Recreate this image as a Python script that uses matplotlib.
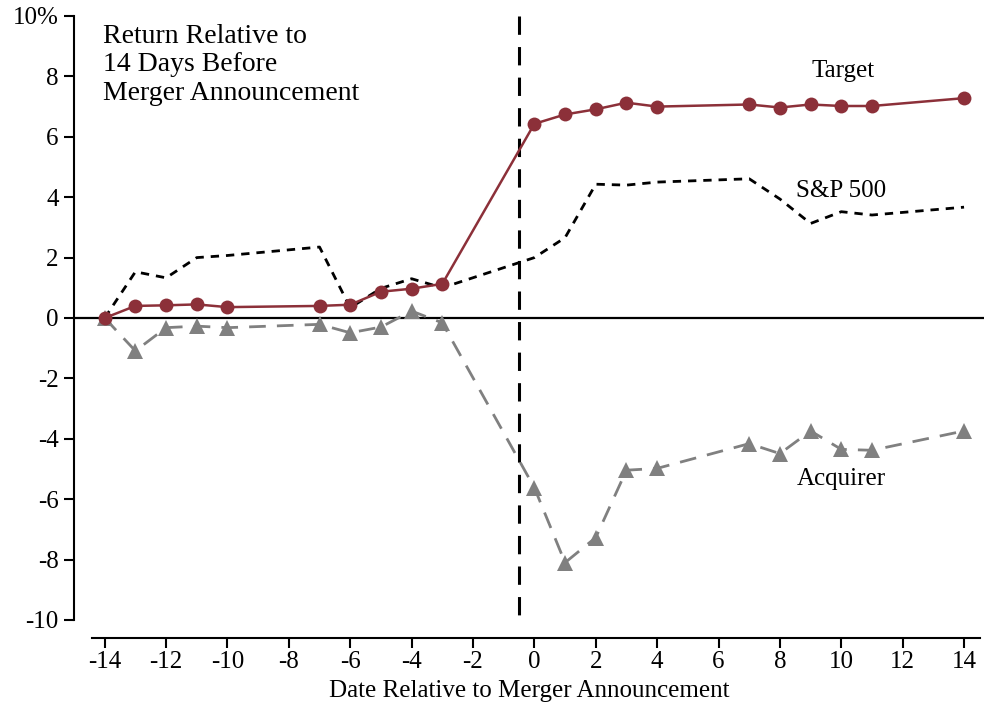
import matplotlib.pyplot as plt
import numpy as np

plt.rcParams['font.family'] = ['Liberation Serif', 'DejaVu Serif']

# Days relative to announcement
days = [-14, -13, -12, -11, -10, -7, -6, -5, -4, -3, 0, 1, 2, 3, 4, 7, 8, 9, 10, 11, 14]

target = [0.0, 0.40, 0.42, 0.45, 0.36, 0.40, 0.44, 0.87, 0.97, 1.13,
          6.43, 6.74, 6.91, 7.13, 7.00, 7.07, 6.97, 7.07, 7.02, 7.02, 7.28]

acquirer = [0.0, -1.09, -0.32, -0.27, -0.32, -0.21, -0.49, -0.30, 0.23, -0.16,
            -5.62, -8.10, -7.27, -5.04, -4.98, -4.16, -4.49, -3.74, -4.35, -4.38, -3.74]

sp500 = [0.0, 1.53, 1.33, 2.00, 2.07, 2.35, 0.34, 0.98, 1.30, 1.00,
         2.00, 2.66, 4.43, 4.40, 4.50, 4.61, 3.94, 3.13, 3.52, 3.41, 3.67]

yticks = [-10, -8, -6, -4, -2, 0, 2, 4, 6, 8, 10]
yticklabels = ['-10', '-8', '-6', '-4', '-2', '0', '2', '4', '6', '8', '10%']
xticks = list(range(-14, 15, 2))

red = '#8c3039'
gray = '#808080'

fig = plt.figure(figsize=(9.84, 7.09), dpi=100)
ax = fig.add_axes([74 / 984, 1 - 620 / 709, 1 - 74 / 984, (620 - 16) / 709])

ax.axhline(0, color='black', lw=1.6, zorder=1)
ax.plot([-0.5, -0.5], [10, -10], color='black', lw=2.2, dashes=(6, 4), zorder=1)

ax.plot(days, sp500, color='black', lw=2, dashes=(3, 2.5), zorder=2)
ax.plot(days, acquirer, color=gray, lw=2, dashes=(6, 4), marker='^',
        markersize=11, markeredgewidth=0, zorder=3)
ax.plot(days, target, color=red, lw=1.8, marker='o', markersize=10,
        markeredgewidth=0, zorder=4)

ax.text(10.05, 8.18, 'Target', fontsize=18, ha='center', va='center')
ax.text(10.0, 4.2, 'S&P 500', fontsize=18, ha='center', va='center')
ax.text(10.0, -5.33, 'Acquirer', fontsize=18, ha='center', va='center')
ax.text(-14.05, 9.75, 'Return Relative to\n14 Days Before\nMerger Announcement',
        fontsize=20, ha='left', va='top', linespacing=1.2)

ax.set_xlim(-15.0, 14.65)
ax.set_ylim(-10, 10)
ax.set_xticks(xticks)
ax.set_xticklabels([str(t) for t in xticks])
ax.set_yticks(yticks)
ax.set_yticklabels(yticklabels)
ax.set_xlabel('Date Relative to Merger Announcement', fontsize=18, labelpad=5)

for s in ['top', 'right']:
    ax.spines[s].set_visible(False)
ax.spines['left'].set_linewidth(1.5)
ax.spines['bottom'].set_linewidth(1.5)
ax.spines['bottom'].set_position(('outward', 13))
ax.spines['bottom'].set_bounds(-14.42, 14.52)
ax.tick_params(axis='both', direction='out', length=7.5, width=1.5, labelsize=18)
ax.tick_params(axis='x', pad=2)

fig.savefig('out.png', dpi=100)
